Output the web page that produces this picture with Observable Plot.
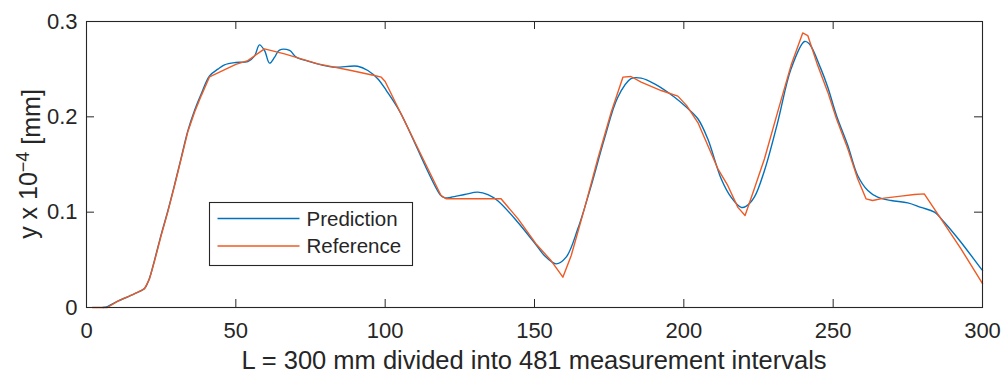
<!DOCTYPE html>
<html>
<head>
<meta charset="utf-8">
<script src="https://cdn.jsdelivr.net/npm/d3@7"></script>
<script src="https://cdn.jsdelivr.net/npm/@observablehq/plot@0.6"></script>
<style>
  html, body { margin: 0; padding: 0; background: #fff; }
  #chart { width: 1004px; height: 374px; position: relative; }
</style>
</head>
<body>
<div id="chart"></div>
<script>
// ---- Data ----
const seriesNames = ["Prediction", "Reference"];
const seriesColors = ["#0072BD", "#EE5A24"];

const predX = [5.5, 7, 10.5, 16, 19.4, 21.1, 22.8, 25, 27.2, 29.5, 31.7, 33.9, 36.2, 38.4, 41.2, 44, 46.2, 50, 54, 56.3, 57.9, 59.6, 61.3, 63, 64.6, 68, 70.2, 74.1, 78.6, 83, 90.8, 94.2, 97.5, 100.4, 105, 118.5, 120, 122.1, 126.6, 131, 134.4, 137.7, 144.4, 150.7, 153.3, 157.2, 160.6, 164.5, 169, 173.4, 177.9, 182.3, 185.7, 190.2, 196.9, 200.9, 204.7, 208, 212.5, 215.8, 219.2, 220.8, 223.6, 227, 231.4, 235.9, 240.4, 242, 245.9, 248.2, 251.1, 254.9, 258.2, 261.6, 264.9, 269.4, 275, 279.4, 283.9, 287.2, 292.8, 299.7, 300];
const predY = [0, 0.001, 0.0066, 0.0143, 0.0200, 0.031, 0.050, 0.0765, 0.101, 0.129, 0.157, 0.185, 0.207, 0.224, 0.243, 0.250, 0.2545, 0.257, 0.258, 0.264, 0.2755, 0.2696, 0.2563, 0.2626, 0.270, 0.2696, 0.2626, 0.2584, 0.2545, 0.252, 0.2531, 0.2486, 0.240, 0.2276, 0.205, 0.118, 0.115, 0.1157, 0.1185, 0.121, 0.1185, 0.112, 0.0895, 0.065, 0.0545, 0.0458, 0.0528, 0.0825, 0.128, 0.177, 0.2206, 0.240, 0.2406, 0.2346, 0.2206, 0.210, 0.198, 0.177, 0.135, 0.1157, 0.105, 0.106, 0.1157, 0.1437, 0.194, 0.2503, 0.279, 0.2766, 0.2503, 0.231, 0.2014, 0.170, 0.1385, 0.1227, 0.1157, 0.1122, 0.1098, 0.105, 0.100, 0.0895, 0.0685, 0.040, 0.039];

const refX = [2, 7, 10.5, 16, 19.4, 21.1, 22.8, 25, 27.2, 29.5, 31.7, 33.9, 36.2, 38.4, 41.2, 44, 50, 54, 59.6, 66.3, 77.5, 88.6, 96.4, 98.7, 100, 118.7, 120.5, 138.8, 144.5, 150.7, 155.6, 159.5, 162.3, 166.7, 171.2, 175.7, 179.6, 182.3, 185.7, 192.4, 198, 200.9, 204.7, 211.4, 214.7, 218.1, 220.5, 223.6, 227, 231.4, 235.9, 239.8, 241.5, 244.8, 248.2, 251.1, 254.9, 258.2, 261, 263.2, 267.1, 272.7, 277.2, 280.5, 286.1, 292.8, 299.7, 300];
const refY = [0, 0, 0.0066, 0.0143, 0.0196, 0.030, 0.049, 0.0755, 0.100, 0.128, 0.156, 0.184, 0.205, 0.222, 0.242, 0.246, 0.255, 0.259, 0.2713, 0.266, 0.2556, 0.2486, 0.2434, 0.2416, 0.237, 0.1175, 0.114, 0.114, 0.093, 0.066, 0.049, 0.0318, 0.0545, 0.1035, 0.156, 0.205, 0.2416, 0.2423, 0.2364, 0.2276, 0.2217, 0.212, 0.194, 0.1455, 0.128, 0.105, 0.0965, 0.1245, 0.156, 0.205, 0.254, 0.288, 0.2853, 0.254, 0.2259, 0.198, 0.1664, 0.135, 0.114, 0.1122, 0.1147, 0.1168, 0.1185, 0.1192, 0.093, 0.0615, 0.0266, 0.025];

const xTicks = [0, 50, 100, 150, 200, 250, 300];
const xTickLabels = ["0", "50", "100", "150", "200", "250", "300"];
const yTicks = [0, 0.1, 0.2, 0.3];
const yTickLabels = ["0", "0.1", "0.2", "0.3"];

const xTitle = "L = 300 mm divided into 481 measurement intervals";
const yTitleParts = ["y x 10", "\u22124", " [mm]"];

// ---- Build tables ----
const pred = predX.map((x, i) => ({x, y: predY[i]}));
const ref = refX.map((x, i) => ({x, y: refY[i]}));

const W = 1004, H = 374;
const mL = 86, mR = 22, mT = 21, mB = 67;
const plotW = W - mL - mR, plotH = H - mT - mB;
const tickLen = 8;
const axisColor = "#262626";
const font = "'Liberation Sans', Arial, Helvetica, sans-serif";

const chart = Plot.plot({
  width: W, height: H,
  marginLeft: mL, marginRight: mR, marginTop: mT, marginBottom: mB,
  x: {domain: [0, 300]},
  y: {domain: [0, 0.3]},
  style: {fontFamily: font, fontSize: "22px", color: axisColor, background: "#fff"},
  marks: [
    Plot.line(pred, {x: "x", y: "y", stroke: seriesColors[0], strokeWidth: 1.4, curve: "catmull-rom"}),
    Plot.line(ref, {x: "x", y: "y", stroke: seriesColors[1], strokeWidth: 1.4}),
    Plot.frame({stroke: axisColor, strokeWidth: 1.1}),
    Plot.tickX(xTicks, {x: d => d, insetTop: plotH - tickLen, stroke: axisColor}),
    Plot.tickX(xTicks, {x: d => d, insetBottom: plotH - tickLen, stroke: axisColor}),
    Plot.tickY(yTicks, {y: d => d, insetRight: plotW - tickLen, stroke: axisColor}),
    Plot.tickY(yTicks, {y: d => d, insetLeft: plotW - tickLen, stroke: axisColor}),
    Plot.axisX(xTicks, {tickSize: 0, tickPadding: 15, label: null, fontSize: 22,
      tickFormat: d => xTickLabels[xTicks.indexOf(d)]}),
    Plot.axisY(yTicks, {tickSize: 0, tickPadding: 9, label: null, fontSize: 22,
      tickFormat: d => yTickLabels[yTicks.indexOf(d)]})
  ]
});

document.getElementById("chart").appendChild(chart);

// ---- Titles and legend appended into the same SVG ----
const svg = d3.select(chart);

svg.append("text")
  .attr("x", mL + plotW / 2).attr("y", 369)
  .attr("text-anchor", "middle")
  .attr("fill", axisColor)
  .style("font-family", font).style("font-size", "25.5px")
  .text(xTitle);

const yt = svg.append("text")
  .attr("transform", `translate(37,${mT + plotH / 2}) rotate(-90)`)
  .attr("text-anchor", "middle")
  .attr("fill", axisColor)
  .style("font-family", font).style("font-size", "25px");
yt.append("tspan").text(yTitleParts[0]);
yt.append("tspan").attr("dy", "-0.45em").style("font-size", "18px").text(yTitleParts[1]);
yt.append("tspan").attr("dy", "0.45em").text(yTitleParts[2]);

// legend box
const lg = svg.append("g").attr("transform", "translate(209.5,202.5)");
lg.append("rect").attr("width", 203).attr("height", 63)
  .attr("fill", "#fff").attr("stroke", axisColor).attr("stroke-width", 1.1);
seriesNames.forEach((name, i) => {
  const cy = 16 + i * 27.5;
  lg.append("line").attr("x1", 8).attr("x2", 90).attr("y1", cy).attr("y2", cy)
    .attr("stroke", seriesColors[i]).attr("stroke-width", 1.4);
  lg.append("text").attr("x", 97).attr("y", cy).attr("dy", "0.35em")
    .attr("text-anchor", "start")
    .attr("fill", axisColor)
    .style("font-family", font).style("font-size", "20.5px")
    .text(name);
});
</script>
</body>
</html>
